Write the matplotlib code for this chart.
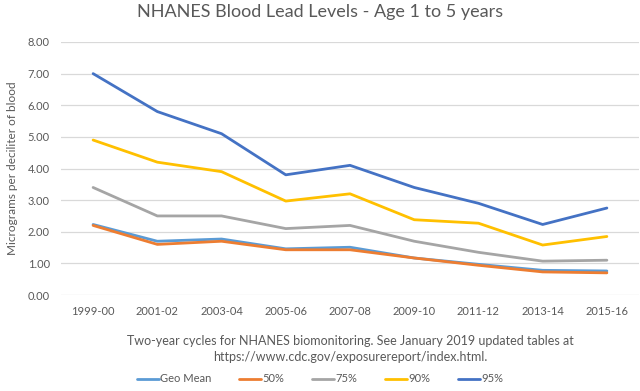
import numpy as np
import matplotlib.pyplot as plt
import matplotlib as mpl

mpl.rcParams['font.family'] = ['Lato', 'DejaVu Sans']

cycles = ['1999-00', '2001-02', '2003-04', '2005-06', '2007-08',
          '2009-10', '2011-12', '2013-14', '2015-16']
geo_mean = [2.23, 1.70, 1.77, 1.46, 1.51, 1.17, 0.97, 0.78, 0.76]
p50 = [2.20, 1.60, 1.70, 1.43, 1.43, 1.17, 0.94, 0.73, 0.70]
p75 = [3.40, 2.50, 2.50, 2.10, 2.20, 1.70, 1.35, 1.07, 1.10]
p90 = [4.90, 4.20, 3.90, 2.97, 3.20, 2.38, 2.27, 1.58, 1.85]
p95 = [7.00, 5.80, 5.10, 3.80, 4.10, 3.40, 2.90, 2.23, 2.75]

series = [('Geo Mean', geo_mean, '#5B9BD5'),
          ('50%', p50, '#ED7D31'),
          ('75%', p75, '#A5A5A5'),
          ('90%', p90, '#FFC000'),
          ('95%', p95, '#4472C4')]

fig = plt.figure(figsize=(6.4, 3.91), dpi=100)
ax = fig.add_axes([61/640, 1 - 295/391, 578/640, (295 - 42)/391])

x = np.arange(len(cycles))
for name, vals, col in series:
    ax.plot(x, vals, color=col, linewidth=2.0, label=name, solid_capstyle='round')

ax.set_xlim(-0.5, len(cycles) - 0.5)
ax.set_ylim(0, 8)
ax.set_yticks(np.arange(0, 9, 1))
ax.set_yticklabels([f'{v:.2f}' for v in range(9)])
ax.set_xticks(x)
ax.set_xticklabels(cycles)
ax.tick_params(length=0, labelsize=8, colors='#595959', pad=8)
ax.grid(axis='y', color='#D9D9D9', linewidth=0.9)
ax.set_axisbelow(True)
for s in ax.spines.values():
    s.set_visible(False)

ax.set_ylabel('Micrograms per deciliter of blood', fontsize=8.5, color='#595959', labelpad=7)
ax.set_xlabel('Two-year cycles for NHANES biomonitoring. See January 2019 updated tables at\n'
              'https://www.cdc.gov/exposurereport/index.html.',
              fontsize=9, color='#595959', labelpad=13, linespacing=1.35)
fig.suptitle('NHANES Blood Lead Levels - Age 1 to 5 years', fontsize=13, color='#595959', y=0.99)

fig.legend(loc='center', bbox_to_anchor=(0.5, 1 - 379/391), ncol=5, frameon=False,
           fontsize=8, handlelength=2.0, handletextpad=0.1, columnspacing=2.5,
           labelcolor='#595959')

fig.savefig('out.png', dpi=100)
